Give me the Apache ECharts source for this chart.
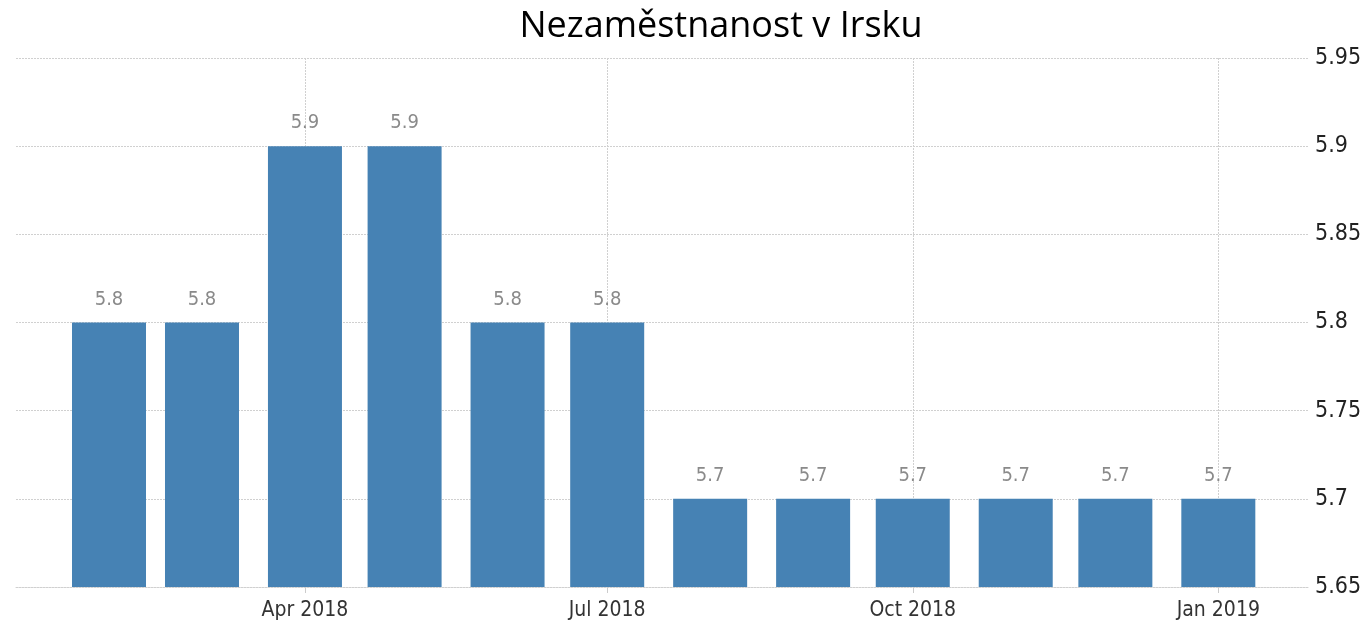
<!DOCTYPE html>
<html><head><meta charset="utf-8">
<script src="https://cdn.jsdelivr.net/npm/echarts@6/dist/echarts.min.js"></script>
<style>html,body{margin:0;padding:0;background:#fff}#c{width:1365px;height:623px}</style>
</head><body><div id="c"></div>
<script>
const title = 'Nezaměstnanost v Irsku';
const months = ['2018-02-01','2018-03-01','2018-04-01','2018-05-01','2018-06-01','2018-07-01','2018-08-01','2018-09-01','2018-10-01','2018-11-01','2018-12-01','2019-01-01'];
const values = [5.8,5.8,5.9,5.9,5.8,5.8,5.7,5.7,5.7,5.7,5.7,5.7];
const tickDates = ['2018-04-01','2018-07-01','2018-10-01','2019-01-01'];
const tickLabels = ['Apr 2018','Jul 2018','Oct 2018','Jan 2019'];
const xRange = ['2018-01-04','2019-01-28'];
const yTicks = [5.65,5.7,5.75,5.8,5.85,5.9,5.95];

const ts = s => { const p = s.split('-').map(Number); return Date.UTC(p[0], p[1]-1, p[2]); };
const tickTs = tickDates.map(ts);
const gridStyle = { color: '#d0d0d0', type: [2, 1], width: 1 };
const chart = echarts.init(document.getElementById('c'));
chart.setOption({
  animation: false,
  title: { text: title, left: 716, textAlign: 'center', top: 4, textStyle: { fontFamily: 'Open Sans', fontSize: 36, fontWeight: 'normal', color: '#000' } },
  grid: { left: 16, right: 57, top: 58, bottom: 36 },
  xAxis: {
    type: 'value', min: ts(xRange[0]), max: ts(xRange[1]),
    axisLine: { show: true, lineStyle: gridStyle },
    axisTick: { show: true, customValues: tickTs, length: 6, lineStyle: { color: '#ccc' } },
    axisLabel: { customValues: tickTs, formatter: v => tickLabels[tickTs.indexOf(v)] || '', fontFamily: 'DejaVu Sans Condensed, DejaVu Sans', fontSize: 21, color: '#333', margin: 13 },
    splitLine: { show: true, lineStyle: gridStyle }
  },
  yAxis: {
    type: 'value', position: 'right', min: yTicks[0], max: yTicks[yTicks.length-1], interval: 0.05,
    axisLine: { show: false }, axisTick: { show: false },
    axisLabel: { fontFamily: 'DejaVu Sans Condensed, DejaVu Sans', fontSize: 23, color: '#222', margin: 7 },
    splitLine: { show: true, lineStyle: gridStyle }
  },
  series: [{
    type: 'bar', barWidth: 74,
    data: months.map((m, i) => [ts(m), values[i]]),
    itemStyle: { color: '#4682B4' },
    label: { show: true, position: 'top', distance: 13, fontFamily: 'DejaVu Sans Condensed, DejaVu Sans', fontSize: 20, color: '#8a8a8a', formatter: p => p.value[1].toFixed(1) }
  }]
});
</script></body></html>
